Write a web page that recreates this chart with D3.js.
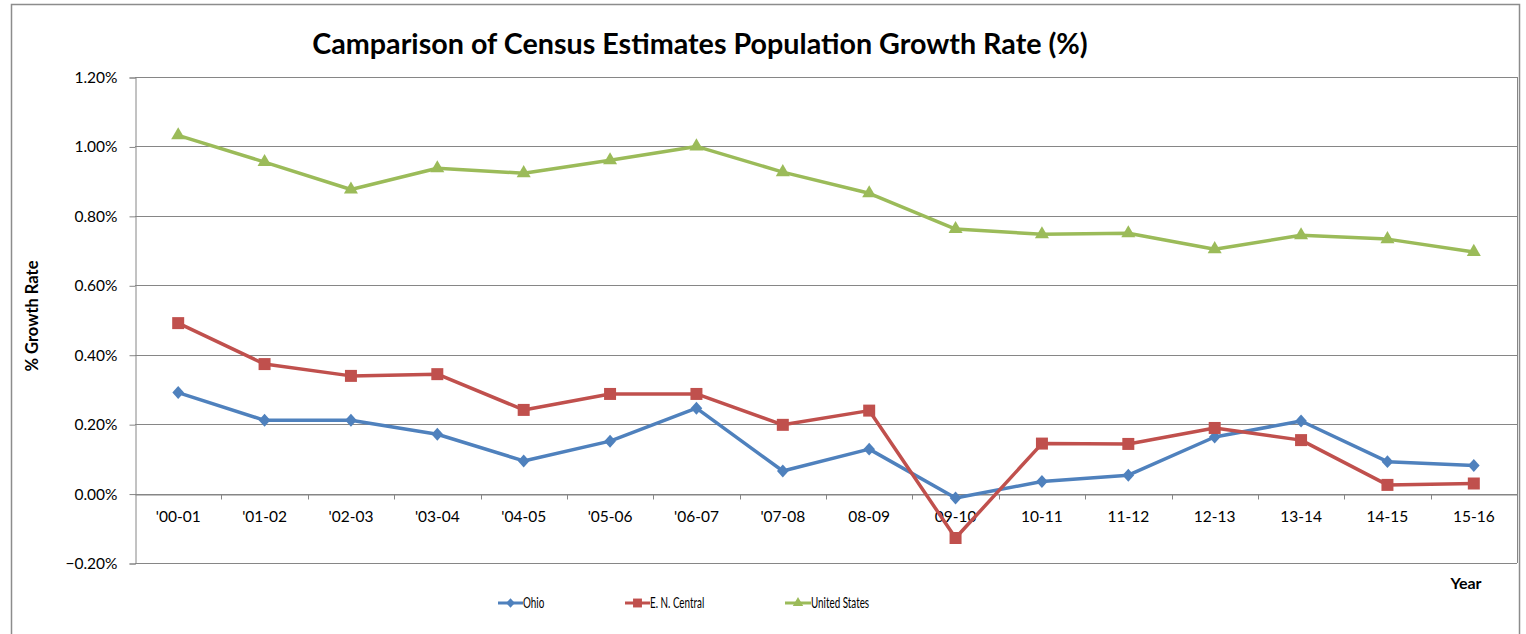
<!DOCTYPE html>
<html>
<head>
<meta charset="utf-8">
<script src="https://cdn.jsdelivr.net/npm/d3@7"></script>
<style>
  body { margin: 0; background: #fff; }
  text { font-family: Lato, "Open Sans", sans-serif; fill: #000; }
</style>
</head>
<body>
<script>
const years = ["'00-01", "'01-02", "'02-03", "'03-04", "'04-05", "'05-06", "'06-07", "'07-08",
  '08-09', '09-10', '10-11', '11-12', '12-13', '13-14', '14-15', '15-16'];
const ohio = [0.291, 0.211, 0.211, 0.171, 0.094, 0.151, 0.246, 0.065,
  0.128, -0.013, 0.035, 0.053, 0.163, 0.209, 0.092, 0.081];
const enCentral = [0.491, 0.373, 0.339, 0.344, 0.241, 0.287, 0.287, 0.198,
  0.239, -0.128, 0.144, 0.143, 0.189, 0.154, 0.025, 0.029];
const unitedStates = [1.032, 0.955, 0.876, 0.937, 0.923, 0.960, 1.000, 0.926,
  0.865, 0.762, 0.747, 0.750, 0.704, 0.744, 0.733, 0.696];
const yTicks = [-0.2, 0, 0.2, 0.4, 0.6, 0.8, 1.0, 1.2];

// excel style diamond, a bit wider than d3's
const wideDiamond = {
  draw(context, size) {
    const h = Math.sqrt(size) * 0.58;
    const w = h * 0.9;
    context.moveTo(0, -h);
    context.lineTo(w, 0);
    context.lineTo(0, h);
    context.lineTo(-w, 0);
    context.closePath();
  },
};

const series = [
  { name: 'Ohio', values: ohio, color: '#4F81BD', shape: wideDiamond, size: 125 },
  { name: 'E. N. Central', values: enCentral, color: '#C0504D', shape: d3.symbolSquare, size: 144 },
  { name: 'United States', values: unitedStates, color: '#9BBB59', shape: d3.symbolTriangle, size: 85 },
];

const W = 1526, H = 634;
const margin = { left: 135, top: 77, right: 9, bottom: 71 };

const svg = d3.select('body').append('svg')
  .attr('width', W)
  .attr('height', H);

// outer chart border
svg.append('rect')
  .attr('x', 11.5).attr('y', 4.5)
  .attr('width', 1508).attr('height', 640)
  .attr('fill', 'none')
  .attr('stroke', '#8c8c8c')
  .attr('stroke-width', 1.5);

const xScale = d3.scaleBand()
  .domain(years)
  .range([margin.left, W - margin.right]);
const yScale = d3.scaleLinear()
  .domain([-0.2, 1.2])
  .range([H - margin.bottom, margin.top]);

// gridlines
svg.append('g')
  .selectAll('line')
  .data(yTicks)
  .enter()
  .append('line')
  .attr('x1', margin.left)
  .attr('x2', W - margin.right)
  .attr('y1', (d) => Math.round(yScale(d)) + 0.5)
  .attr('y2', (d) => Math.round(yScale(d)) + 0.5)
  .attr('stroke', '#868686')
  .attr('stroke-width', 1);

// right edge of plot area
svg.append('line')
  .attr('x1', W - margin.right + 0.5).attr('x2', W - margin.right + 0.5)
  .attr('y1', margin.top).attr('y2', H - margin.bottom)
  .attr('stroke', '#868686');

// y axis
const yAxis = d3.axisLeft(yScale)
  .tickValues(yTicks)
  .tickSize(6)
  .tickPadding(12)
  .tickFormat((d) => d3.format('.2f')(d) + '%');
const gy = svg.append('g')
  .attr('transform', `translate(${margin.left + 0.5}, 0.5)`)
  .call(yAxis);
gy.selectAll('path, line').attr('stroke', '#868686');
gy.selectAll('text').style('font-size', '15.5px');

// x axis at zero
const xAxis = d3.axisBottom(xScale).tickSize(0).tickPadding(16);
const gx = svg.append('g')
  .attr('transform', `translate(0, ${Math.round(yScale(0)) + 0.5})`)
  .call(xAxis);
gx.select('.domain').attr('stroke', '#868686');
gx.selectAll('text').style('font-size', '15.5px');
// tick marks between categories
gx.selectAll('.sep')
  .data(years.slice(1).concat(['end']))
  .enter()
  .append('line')
  .attr('x1', (d, i) => Math.round(xScale(years[0]) + (i + 1) * xScale.step()) + 0.5)
  .attr('x2', (d, i) => Math.round(xScale(years[0]) + (i + 1) * xScale.step()) + 0.5)
  .attr('y1', 0)
  .attr('y2', 5)
  .attr('stroke', '#868686');

// lines and markers
const line = d3.line()
  .x((d, i) => xScale(years[i]) + xScale.bandwidth() / 2)
  .y((d) => yScale(d));

series.forEach((s) => {
  svg.append('path')
    .datum(s.values)
    .attr('d', line)
    .attr('fill', 'none')
    .attr('stroke', s.color)
    .attr('stroke-width', 3.5)
    .attr('stroke-linejoin', 'round');
  svg.append('g')
    .selectAll('path')
    .data(s.values)
    .enter()
    .append('path')
    .attr('d', d3.symbol().type(s.shape).size(s.size))
    .attr('transform', (d, i) =>
      `translate(${xScale(years[i]) + xScale.bandwidth() / 2}, ${yScale(d)})`)
    .attr('fill', s.color);
});

// titles
svg.append('text')
  .attr('x', 700)
  .attr('y', 54)
  .attr('text-anchor', 'middle')
  .style('font-size', '28.7px')
  .style('font-weight', 'bold')
  .text('Camparison of Census Estimates Population Growth Rate (%)');

svg.append('text')
  .attr('transform', 'translate(38, 316) rotate(-90)')
  .attr('text-anchor', 'middle')
  .style('font-size', '16.5px')
  .style('font-weight', 'bold')
  .text('% Growth Rate');

svg.append('text')
  .attr('x', 1466)
  .attr('y', 589)
  .attr('text-anchor', 'middle')
  .style('font-size', '16px')
  .style('font-weight', 'bold')
  .text('Year');

// legend
const legendX = [498, 625, 785];
const legend = svg.append('g')
  .selectAll('g')
  .data(series)
  .enter()
  .append('g')
  .attr('transform', (d, i) => `translate(${legendX[i]}, 603)`);
legend.append('line')
  .attr('x1', 0).attr('x2', (d, i) => (i === 2 ? 26 : 25))
  .attr('y1', 0).attr('y2', 0)
  .attr('stroke', (d) => d.color)
  .attr('stroke-width', 3);
legend.append('path')
  .attr('d', (d) => d3.symbol().type(d.shape).size(d.size * 0.55)())
  .attr('transform', (d, i) => `translate(${(i === 2 ? 13 : 12.5)}, 0)`)
  .attr('fill', (d) => d.color);
legend.append('text')
  .attr('transform', (d, i) => `translate(${i === 2 ? 26 : 25}, 5) scale(0.68, 1)`)
  .style('font-size', '14.5px')
  .text((d) => d.name);
</script>
</body>
</html>
